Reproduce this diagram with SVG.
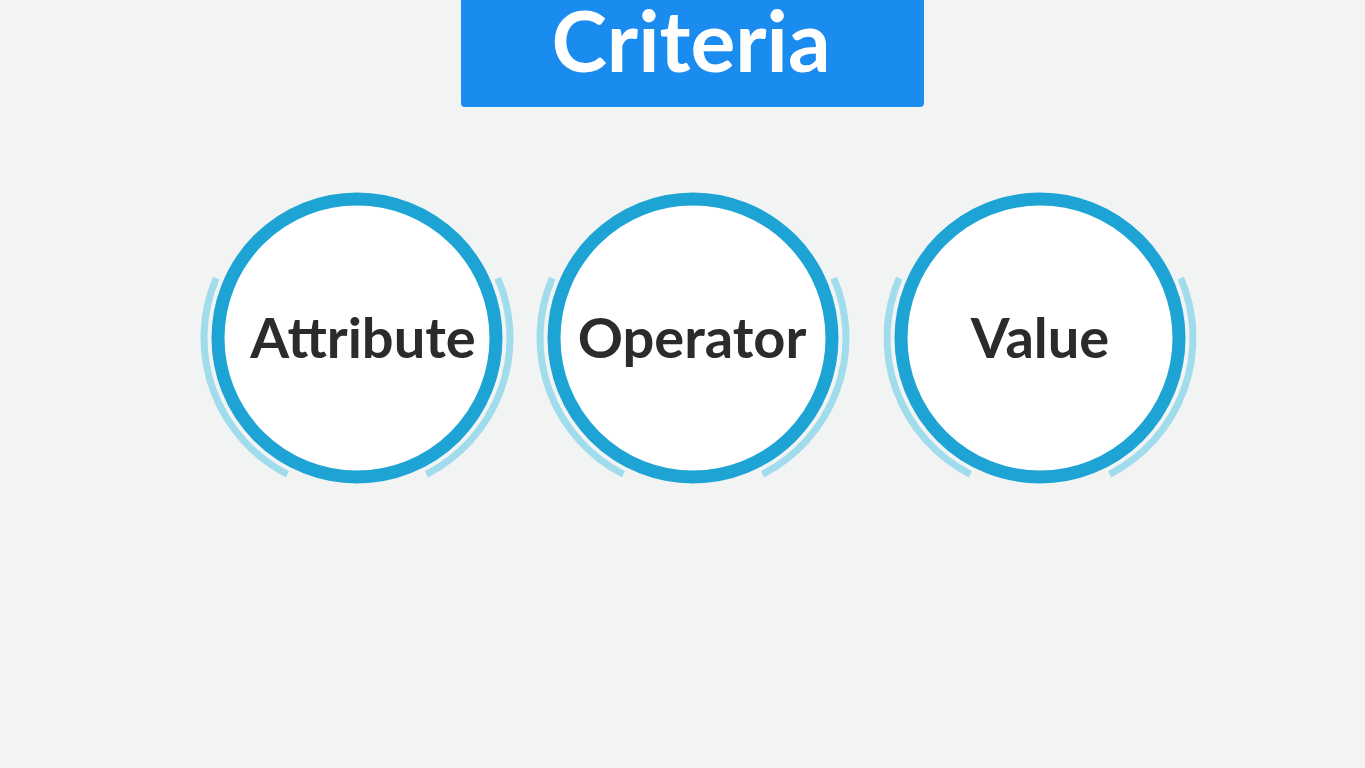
<svg xmlns="http://www.w3.org/2000/svg" width="1365" height="768" viewBox="0 0 1365 768">
  <defs>
    <style>
      .bg { fill: #f2f4f4; }
      .title-box { fill: #1a8cf0; }
      .title { font-family: Lato, "Open Sans", "Liberation Sans", sans-serif; font-weight: 700; font-size: 84px; fill: #ffffff; text-anchor: middle; }
      .ring { fill: #ffffff; stroke: #1ea4d4; stroke-width: 13; }
      .halo { fill: none; stroke: #a0dcec; stroke-width: 7; }
      .label { font-family: Lato, "Open Sans", "Liberation Sans", sans-serif; font-weight: 700; font-size: 56px; fill: #2b2b2b; text-anchor: middle; }
    </style>
    <!-- pair of pale arcs hugging the ring on both sides, centred on (0,0), r=153 -->
    <g id="halo-pair">
      <path class="halo" d="M -140.8 -59.8 A 153 153 0 0 0 -69.5 136.3"/>
      <path class="halo" d="M 140.8 -59.8 A 153 153 0 0 1 69.5 136.3"/>
    </g>
  </defs>

  <rect class="bg" x="0" y="0" width="1365" height="768"/>

  <g id="title">
    <path class="title-box" d="M 461 0 H 924 V 103 A 4 4 0 0 1 920 107 H 465 A 4 4 0 0 1 461 103 Z"/>
    <text class="title" x="691" y="72">Criteria</text>
  </g>

  <g id="node-attribute">
    <use href="#halo-pair" transform="translate(357 338)"/>
    <circle class="ring" cx="357" cy="338" r="139"/>
    <text class="label" x="363" y="358">Attribute</text>
  </g>

  <g id="node-operator">
    <use href="#halo-pair" transform="translate(693 338)"/>
    <circle class="ring" cx="693" cy="338" r="139"/>
    <text class="label" x="692" y="358">Operator</text>
  </g>

  <g id="node-value">
    <use href="#halo-pair" transform="translate(1040 338)"/>
    <circle class="ring" cx="1040" cy="338" r="139"/>
    <text class="label" x="1040" y="358">Value</text>
  </g>

  <g id="connectors"></g>
</svg>
